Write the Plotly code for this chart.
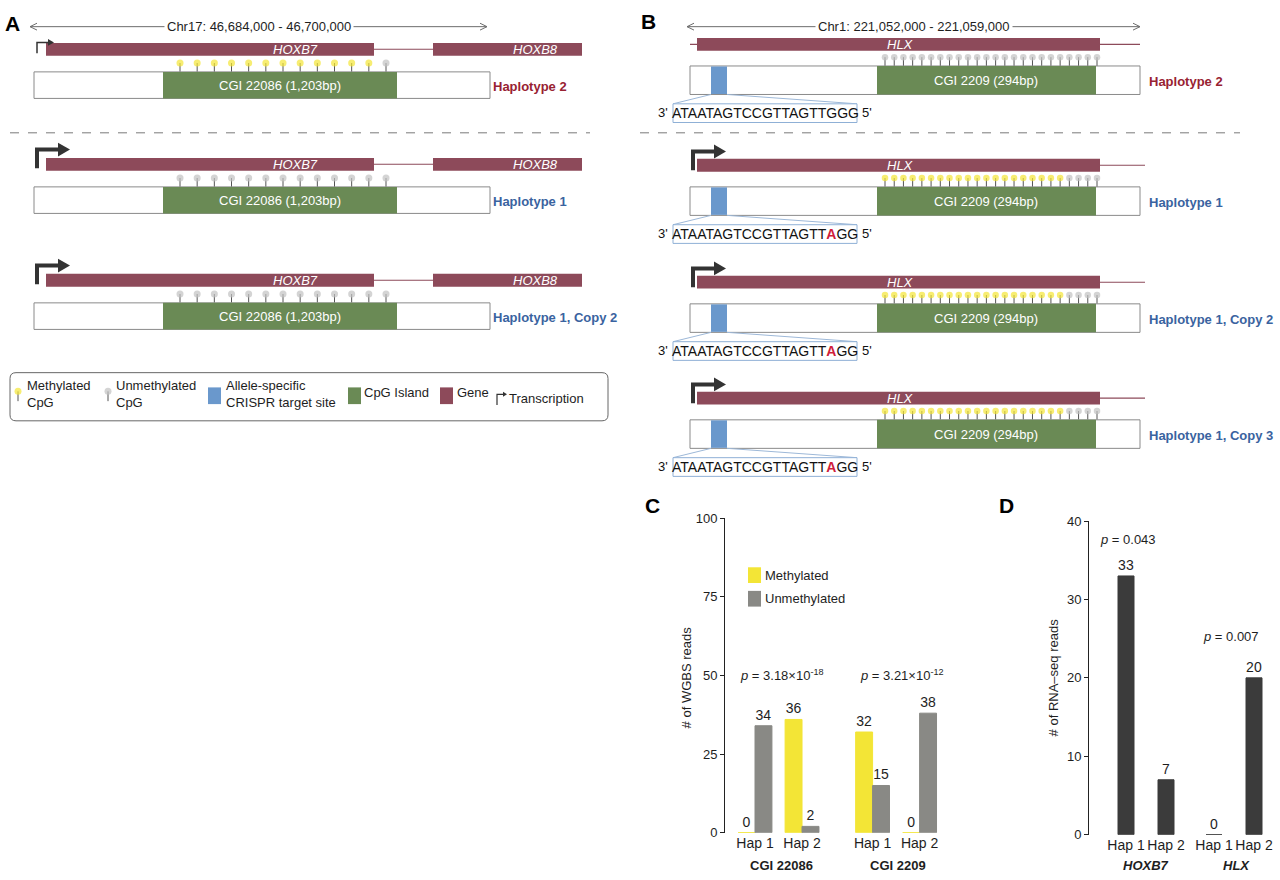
import plotly.graph_objects as go

FONT = "Liberation Sans, Arial, Helvetica, sans-serif"

# ---------------- data ----------------
chrA_label = "Chr17: 46,684,000 - 46,700,000"
chrB_label = "Chr1: 221,052,000 - 221,059,000"
genesA = ["HOXB7", "HOXB8"]
geneB = "HLX"
cgiA_label = "CGI 22086 (1,203bp)"
cgiB_label = "CGI 2209 (294bp)"
hapA_labels = ["Haplotype 2", "Haplotype 1", "Haplotype 1, Copy 2"]
hapB_labels = ["Haplotype 2", "Haplotype 1", "Haplotype 1, Copy 2", "Haplotype 1, Copy 3"]
hapA_parent = [2, 1, 1]
hapB_parent = [2, 1, 1, 1]
# 1 = methylated CpG, 0 = unmethylated CpG
hapA_meth = [
    [1, 1, 1, 1, 1, 1, 1, 1, 1, 1, 1, 1, 0],
    [0, 0, 0, 0, 0, 0, 0, 0, 0, 0, 0, 0, 0],
    [0, 0, 0, 0, 0, 0, 0, 0, 0, 0, 0, 0, 0],
]
hapB_meth = [
    [0, 0, 0, 0, 0, 0, 0, 0, 0, 0, 0, 0, 0, 0, 0, 0, 0, 0, 0, 0, 0, 0, 0, 0],
    [1, 1, 1, 1, 1, 1, 1, 1, 1, 1, 1, 1, 1, 1, 1, 1, 1, 1, 1, 1, 0, 0, 0, 0],
    [1, 1, 1, 1, 1, 1, 1, 1, 1, 1, 1, 1, 1, 1, 1, 1, 1, 1, 1, 1, 0, 0, 0, 0],
    [1, 1, 1, 1, 1, 1, 1, 1, 1, 1, 1, 1, 1, 1, 1, 1, 1, 1, 1, 1, 0, 0, 0, 0],
]
crisprB_seq = ["ATAATAGTCCGTTAGTTGGG", "ATAATAGTCCGTTAGTTAGG",
               "ATAATAGTCCGTTAGTTAGG", "ATAATAGTCCGTTAGTTAGG"]
snv_pos = 17
hapB_alt = [0, 1, 1, 1]
transA = ["weak", "strong", "strong"]
transB = ["none", "strong", "strong", "strong"]
legend_labels = ["Methylated<br>CpG", "Unmethylated<br>CpG", "Allele-specific<br>CRISPR target site",
                 "CpG Island", "Gene", "Transcription"]

c_groups = ["CGI 22086", "CGI 2209"]
c_haps = ["Hap 1", "Hap 2", "Hap 1", "Hap 2"]
c_meth = [0, 36, 32, 0]
c_unmeth = [34, 2, 15, 38]
c_pvals = ["3.18×10<sup>-18</sup>", "3.21×10<sup>-12</sup>"]
c_yticks = [0, 25, 50, 75, 100]

d_genes = ["HOXB7", "HLX"]
d_haps = ["Hap 1", "Hap 2", "Hap 1", "Hap 2"]
d_reads = [33, 7, 0, 20]
d_pvals = ["0.043", "0.007"]
d_yticks = [0, 10, 20, 30, 40]

# ---------------- styles ----------------
GENE = "#8d4a5a"
GREEN = "#6a8a55"
BLUE = "#6a98cc"
YEL = "#f3e536"
GRAYC = "#c2c2c2"
RED_LBL = "#982232"
BLUE_LBL = "#3a63a0"
STEM = "#555555"
BAR_GRAY = "#898985"
BAR_DARK = "#3b3b3b"
TXT = "#1e1e1e"
HAP_COL = {2: RED_LBL, 1: BLUE_LBL}

shapes, ann = [], []
st_x, st_y = [], []
hd_x, hd_y, hd_c, hd_s = [], [], [], []


def S(**k):
    k.setdefault("xref", "x3")
    k.setdefault("yref", "y3")
    shapes.append(k)


def T(x, y, text, size=13, color=TXT, xanchor="center", **k):
    ann.append(dict(x=x, y=y, xref="x3", yref="y3", text=text, showarrow=False,
                    font=dict(family=FONT, size=size, color=color),
                    xanchor=xanchor, yanchor="middle", **k))


def rect(x0, y0, x1, y1, fill, line=None, lw=0):
    S(type="rect", x0=x0, y0=y0, x1=x1, y1=y1, fillcolor=fill,
      line=dict(color=line or fill, width=lw))


def hline(x0, x1, y, color, w=1, dash=None):
    S(type="line", x0=x0, x1=x1, y0=y, y1=y, line=dict(color=color, width=w, dash=dash))


def chr_arrow(x0, x1, y, label):
    c = "#6d6d6d"
    hline(x0, x1, y, c, 1)
    S(type="path", path=f"M{x0+7},{y-3.5} L{x0},{y} L{x0+7},{y+3.5}", line=dict(color=c, width=1))
    S(type="path", path=f"M{x1-7},{y-3.5} L{x1},{y} L{x1-7},{y+3.5}", line=dict(color=c, width=1))
    T((x0 + x1) / 2, y, label, size=13, bgcolor="white", borderpad=2)


def tss(x, ybase, kind):
    if kind == "none":
        return
    if kind == "strong":
        lw, h, L, ah, aw = 4, 19, 21, 12, 7
    else:
        lw, h, L, ah, aw = 1.5, 11, 11, 6, 3.5
    S(type="path", path=f"M{x},{ybase} L{x},{ybase-h} L{x+L},{ybase-h}",
      line=dict(color="#333333", width=lw))
    S(type="path", path=f"M{x+L},{ybase-h-aw} L{x+L+ah},{ybase-h} L{x+L},{ybase-h+aw} Z",
      fillcolor="#333333", line=dict(color="#333333", width=0))


def lollipops(xs, head_y, stem_bot, states, size):
    for x, s in zip(xs, states):
        st_x.extend([x, x, None])
        st_y.extend([head_y, stem_bot, None])
        hd_x.append(x)
        hd_y.append(head_y)
        hd_c.append(YEL if s == 1 else GRAYC)
        hd_s.append(size)


# ---------------- panel A ----------------
T(12, 17, "<b>A</b>", size=21, color="#000")
chr_arrow(30, 487, 20, chrA_label)
rowA_y = [43, 160, 278]
for i, gy in enumerate(rowA_y):
    hline(374, 433, gy, GENE, 1.2)
    rect(46, gy - 6.5, 374, gy + 6.5, GENE)
    rect(433, gy - 6.5, 582, gy + 6.5, GENE)
    T(295, gy, f"<i>{genesA[0]}</i>", size=13, color="white")
    T(535, gy, f"<i>{genesA[1]}</i>", size=13, color="white")
    tss(37, gy + 4, transA[i])
    top, bot = gy + 23, gy + 50
    rect(34, top, 490, bot, "white", "#8a8a8a", 1)
    rect(163, top, 397, bot, GREEN)
    T(280, (top + bot) / 2, cgiA_label, size=13, color="white")
    T(491, (top + bot) / 2 + 1, f"<b>{hapA_labels[i]}</b>", size=13,
      color=HAP_COL[hapA_parent[i]], xanchor="left")
    n = len(hapA_meth[i])
    xs = [180 + k * (206 / (n - 1)) for k in range(n)]
    lollipops(xs, gy + 14, top, hapA_meth[i], 7)
hline(10, 590, 128, "#7a7a7a", 1, "dash")

# legend box A (drawn beneath the legend lollipops)
S(type="path", path="M16,372 L602,372 Q608,372 608,378 L608,415 Q608,421 602,421 "
                    "L16,421 Q10,421 10,415 L10,378 Q10,372 16,372 Z",
  line=dict(color="#666666", width=1), fillcolor="white", layer="below")
lollipops([18], 391, 401, [1], 7)
T(25, 394, legend_labels[0], size=13, xanchor="left", align="left")
lollipops([108], 391, 401, [0], 7)
T(114, 394, legend_labels[1], size=13, xanchor="left", align="left")
rect(208, 387, 221, 404, BLUE)
T(224, 394, legend_labels[2], size=13, xanchor="left", align="left")
rect(348, 387, 361, 404, GREEN)
T(362, 392, legend_labels[3], size=13, xanchor="left")
rect(440, 387, 453, 404, GENE)
T(455, 392, legend_labels[4], size=13, xanchor="left")
S(type="path", path="M497,405 L497,394 L503,394", line=dict(color="#333", width=1.2))
S(type="path", path="M503,391.5 L507,394 L503,396.5 Z", fillcolor="#333", line=dict(color="#333", width=0))
T(507, 398, legend_labels[5], size=13, xanchor="left")

# ---------------- panel B ----------------
T(648, 15, "<b>B</b>", size=21, color="#000")
chr_arrow(687, 1140, 20, chrB_label)
rowB_y = [38, 161, 280, 398]
for i, gy in enumerate(rowB_y):
    hline(690 if transB[i] == "none" else 697, 1140 if i == 0 else 1145, gy, GENE, 1.2)
    rect(697, gy - 6.5, 1100, gy + 6.5, GENE)
    T(900, gy, f"<i>{geneB}</i>", size=13, color="white")
    tss(693, gy + 5, transB[i])
    top, bot = gy + 22, gy + 51
    rect(690, top, 1140, bot, "white", "#8a8a8a", 1)
    rect(877, top, 1096, bot, GREEN)
    rect(711, top + 0.5, 727, bot - 0.5, BLUE)
    T(986, (top + bot) / 2, cgiB_label, size=13, color="white")
    T(1147, (top + bot) / 2 + 1, f"<b>{hapB_labels[i]}</b>", size=13,
      color=HAP_COL[hapB_parent[i]], xanchor="left")
    n = len(hapB_meth[i])
    xs = [885 + k * (212 / (n - 1)) for k in range(n)]
    lollipops(xs, gy + 13, top, hapB_meth[i], 6.5)
    # sequence callout
    sy = gy + 70
    stop, sbot = sy - 9.5, sy + 9.5
    S(type="line", x0=711, y0=bot, x1=673, y1=stop, line=dict(color="#9db8d8", width=1))
    S(type="line", x0=727, y0=bot, x1=857, y1=stop, line=dict(color="#9db8d8", width=1))
    rect(673, stop, 857, sbot, "white", "#8fb0d6", 1)
    seq = crisprB_seq[i]
    if hapB_alt[i]:
        seq_txt = (seq[:snv_pos] + f"<span style='color:#d0203a'><b>{seq[snv_pos]}</b></span>"
                   + seq[snv_pos + 1:])
    else:
        seq_txt = seq
    T(765, sy, seq_txt, size=14, color="#111")
    T(670, sy - 1, "3'", size=13, color="#111", xanchor="right")
    T(860, sy - 1, "5'", size=13, color="#111", xanchor="left")
hline(640, 1240, 128, "#7a7a7a", 1, "dash")

# ---------------- panel C annotations ----------------
T(652, 507, "<b>C</b>", size=21, color="#000")
T(686, 682, "# of WGBS reads", size=13, textangle=-90)
rect(748, 570, 761, 586, YEL)
T(763, 578, "Methylated", size=13, xanchor="left")
rect(748, 594, 761, 610, BAR_GRAY)
T(763, 602, "Unmethylated", size=13, xanchor="left")
T(782, 680, f"<i>p</i> = {c_pvals[0]}", size=13)
T(902, 680, f"<i>p</i> = {c_pvals[1]}", size=13)
T(781, 873, f"<b>{c_groups[0]}</b>", size=13)
T(898, 873, f"<b>{c_groups[1]}</b>", size=13)

# ---------------- panel D annotations ----------------
T(1006, 507, "<b>D</b>", size=21, color="#000")
T(1053, 682, "# of RNA–seq reads", size=13, textangle=-90)
T(1128, 542, f"<i>p</i> = {d_pvals[0]}", size=13)
T(1231, 640, f"<i>p</i> = {d_pvals[1]}", size=13)
T(1146, 873, f"<b><i>{d_genes[0]}</i></b>", size=13)
T(1236, 873, f"<b><i>{d_genes[1]}</i></b>", size=13)

# ---------------- figure ----------------
fig = go.Figure()

c_x = [0, 1, 2.5, 3.5]
d_x = [0, 1, 2.2, 3.2]
fig.add_trace(go.Bar(x=c_x, y=c_meth, width=0.36, offset=-0.36, marker=dict(color=YEL, line=dict(color=YEL, width=1)),
                     text=[str(v) for v in c_meth], textposition="outside", cliponaxis=False,
                     textfont=dict(family=FONT, size=14, color=TXT), xaxis="x", yaxis="y",
                     showlegend=False, hoverinfo="skip"))
fig.add_trace(go.Bar(x=c_x, y=c_unmeth, width=0.36, offset=0, marker=dict(color=BAR_GRAY, line=dict(color=BAR_GRAY, width=1)),
                     text=[str(v) for v in c_unmeth], textposition="outside", cliponaxis=False,
                     textfont=dict(family=FONT, size=14, color=TXT), xaxis="x", yaxis="y",
                     showlegend=False, hoverinfo="skip"))
fig.add_trace(go.Bar(x=d_x, y=d_reads, width=0.4, marker=dict(color=BAR_DARK, line=dict(color=BAR_DARK, width=1)),
                     text=[str(v) for v in d_reads], textposition="outside", cliponaxis=False,
                     textfont=dict(family=FONT, size=14, color=TXT), xaxis="x2", yaxis="y2",
                     showlegend=False, hoverinfo="skip"))

fig.add_trace(go.Scatter(x=st_x, y=st_y, mode="lines", line=dict(color=STEM, width=1),
                         xaxis="x3", yaxis="y3", showlegend=False, hoverinfo="skip"))
fig.add_trace(go.Scatter(x=hd_x, y=hd_y, mode="markers",
                         marker=dict(color=hd_c, size=hd_s, line=dict(width=0)),
                         xaxis="x3", yaxis="y3", showlegend=False, hoverinfo="skip"))

W, H = 1280, 880
yax = dict(showline=True, linecolor="#222", linewidth=1, ticks="outside", ticklen=4, tickwidth=1,
           tickcolor="#222", showgrid=False, zeroline=False,
           tickfont=dict(family=FONT, size=13, color=TXT), fixedrange=True)
xax = dict(showline=False, ticks="", showgrid=False, zeroline=False,
           tickfont=dict(family=FONT, size=14, color=TXT), fixedrange=True)

fig.update_layout(
    width=W, height=H, margin=dict(l=0, r=0, t=0, b=0),
    paper_bgcolor="white", plot_bgcolor="rgba(0,0,0,0)",
    barmode="overlay", showlegend=False,
    font=dict(family=FONT, color=TXT),
    xaxis=dict(xax, domain=[725 / W, 945 / W], range=[-0.638, 4.04],
               tickvals=c_x, ticktext=c_haps, anchor="y"),
    yaxis=dict(yax, domain=[1 - 840 / H, 1 - 520 / H], range=[0, 100],
               tickvals=c_yticks, anchor="x"),
    xaxis2=dict(xax, domain=[1089 / W, 1278 / W], range=[-0.925, 3.8],
                tickvals=d_x, ticktext=d_haps, anchor="y2"),
    yaxis2=dict(yax, domain=[1 - 842 / H, 1 - 523 / H], range=[0, 40],
                tickvals=d_yticks, anchor="x2"),
    xaxis3=dict(domain=[0, 1], range=[0, W], visible=False, fixedrange=True, anchor="y3"),
    yaxis3=dict(domain=[0, 1], range=[H, 0], visible=False, fixedrange=True, anchor="x3"),
    shapes=shapes, annotations=ann,
)

fig.write_html("out.html")
